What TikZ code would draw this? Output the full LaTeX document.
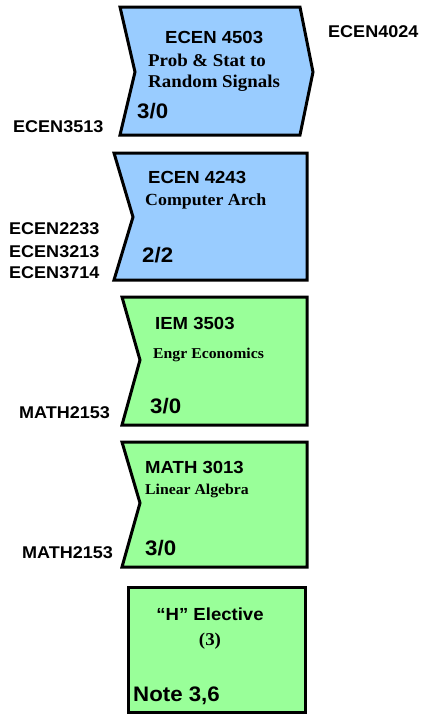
\documentclass[tikz,border=0pt]{standalone}
\usepackage{fontspec}
\setmainfont[FakeStretch=1.05]{Liberation Serif}
\setsansfont[FakeStretch=1.06]{Liberation Sans}
\usepackage{tikz}
\usetikzlibrary{positioning}

\definecolor{azul}{HTML}{99CCFF}
\definecolor{verde}{HTML}{99FF99}

\begin{document}
\begin{tikzpicture}[
      x=1pt, y=-1pt,
      caixa/.style={draw=black, line width=3pt, line join=miter},
      codigo/.style={inner sep=0pt, anchor=base west,
                     font=\sffamily\bfseries\fontsize{17.5}{20}\selectfont},
      titulo/.style={inner sep=0pt, anchor=base west,
                     font=\rmfamily\bfseries\fontsize{18}{21}\selectfont},
      credito/.style={inner sep=0pt, anchor=base west,
                      font=\sffamily\bfseries\fontsize{21}{24}\selectfont},
      prereq/.style={inner sep=0pt, anchor=base west,
                     font=\sffamily\bfseries\fontsize{17}{20}\selectfont}
  ]
      \useasboundingbox (0,0) rectangle (423,715);

      % Disciplinas
      \draw[caixa, fill=azul] (120,7) -- (300,7) -- (313,72) -- (300,135)
          -- (120,135) -- (135,72) -- cycle;
      \draw[caixa, fill=azul] (114,153) -- (307,153) -- (307,280)
          -- (114,280) -- (133,217) -- cycle;
      \draw[caixa, fill=verde] (122,297) -- (307,297) -- (307,425)
          -- (122,425) -- (140,360) -- cycle;
      \draw[caixa, fill=verde] (122,442) -- (307,442) -- (307,567)
          -- (122,567) -- (140,503) -- cycle;
      \draw[caixa, fill=verde] (128,587) rectangle (305,712);

      % ECEN 4503
      \node[codigo]  (e4503)  at (165,43)  {ECEN 4503};
      \node[titulo]  (e4503a) at (148,66)  {Prob \& Stat to};
      \node[titulo]  (e4503b) at (148,87)  {Random Signals};
      \node[credito] (e4503c) at (137,118) {3/0};
      \node[prereq]  (pos1)   at (328,37)  {ECEN4024};
      \node[prereq]  (pre1)   at (13,132)  {ECEN3513};

      % ECEN 4243
      \node[codigo]  (e4243)  at (148,183) {ECEN 4243};
      \node[titulo, font=\rmfamily\bfseries\fontsize{17}{20}\selectfont]
                     (e4243a) at (145,205) {Computer Arch};
      \node[credito] (e4243c) at (142,262) {2/2};
      \node[prereq]  (pre2a)  at (9,234)   {ECEN2233};
      \node[prereq]  (pre2b)  at (9,257)   {ECEN3213};
      \node[prereq]  (pre2c)  at (9,278)   {ECEN3714};

      % IEM 3503
      \node[codigo]  (i3503)  at (155,329) {IEM 3503};
      \node[titulo, font=\rmfamily\bfseries\fontsize{15}{18}\selectfont]
                     (i3503a) at (153,358) {Engr Economics};
      \node[credito] (i3503c) at (150,413) {3/0};
      \node[prereq]  (pre3)   at (19,418)  {MATH2153};

      % MATH 3013
      \node[codigo]  (m3013)  at (145,473) {MATH 3013};
      \node[titulo, font=\rmfamily\bfseries\fontsize{15}{18}\selectfont]
                     (m3013a) at (145,494) {Linear Algebra};
      \node[credito] (m3013c) at (145,555) {3/0};
      \node[prereq]  (pre4)   at (22,558)  {MATH2153};

      % Eletiva
      \node[codigo, anchor=base]  (elet)  at (210,620) {“H” Elective};
      \node[titulo, anchor=base]  (eleta) at (210,645) {(3)};
      \node[credito] (eletc) at (133,701) {Note 3,6};
  \end{tikzpicture}
\end{document}
